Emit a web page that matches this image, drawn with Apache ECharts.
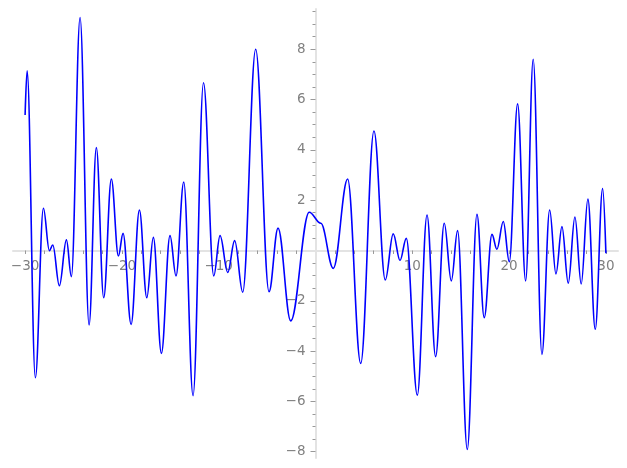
<!DOCTYPE html>
<html>
<head>
<meta charset="utf-8">
<script src="https://cdn.jsdelivr.net/npm/echarts@6/dist/echarts.min.js"></script>
<style>html,body{margin:0;padding:0;background:#fff}#c{width:627px;height:468px}</style>
</head>
<body>
<div id="c"></div>
<script>
// Curve samples (turning points of the curve)
const xValues = [-30, -29.79, -28.94, -28.11, -27.49, -27.14, -26.46, -25.73, -25.22, -24.32,
  -23.39, -22.64, -21.88, -21.09, -20.36, -19.88, -19.05, -18.19, -17.43, -16.75,
  -15.92, -15.03, -14.41, -13.61, -12.65, -11.57, -10.51, -9.86, -9.07, -8.35,
  -7.52, -6.18, -4.80, -3.87, -2.56, -0.65, 0.55, 1.84, 3.32, 4.67,
  6.04, 7.21, 8.03, 8.73, 9.38, 10.52, 11.52, 12.41, 13.30, 14.03,
  14.68, 15.68, 16.68, 17.43, 18.23, 18.74, 19.40, 20.02, 20.88, 21.71,
  22.49, 23.39, 24.19, 24.84, 25.46, 26.11, 26.80, 27.45, 28.14, 28.90,
  29.66, 30];
const yValues = [5.39, 7.14, -5.06, 1.68, -0.01, 0.22, -1.40, 0.42, -1.04, 9.26,
  -2.96, 4.09, -1.88, 2.84, -0.22, 0.68, -2.94, 1.61, -1.88, 0.52,
  -4.09, 0.59, -1.01, 2.72, -5.77, 6.67, -1.01, 0.59, -0.87, 0.39,
  -1.66, 8.00, -1.64, 0.89, -2.80, 1.52, 1.08, -0.71, 2.84, -4.49,
  4.75, -1.17, 0.66, -0.40, 0.48, -5.75, 1.41, -4.22, 1.08, -1.21,
  0.79, -7.91, 1.44, -2.67, 0.64, 0.05, 1.15, -0.45, 5.83, -1.21,
  7.60, -4.13, 1.61, -0.93, 0.95, -1.30, 1.33, -1.33, 2.04, -3.13,
  2.46, -0.11];

// Tick labels and tick marks
const xTickLabels = [-30, -20, -10, 10, 20, 30];
const xTickMarks = [-30, -28, -26, -24, -22, -20, -18, -16, -14, -12, -10, -8, -6, -4, -2,
  2, 4, 6, 8, 10, 12, 14, 16, 18, 20, 22, 24, 26, 28, 30];
const yTickLabels = [-8, -6, -4, -2, 2, 4, 6, 8];
const yMinorTicks = [-7.5, -7, -6.5, -5.5, -5, -4.5, -3.5, -3, -2.5, -1.5, -1, -0.5,
  0.5, 1, 1.5, 2.5, 3, 3.5, 4.5, 5, 5.5, 6.5, 7, 7.5, 8.5, 9, 9.5];

const fmt = v => (v < 0 ? '\u2212' + Math.abs(v) : String(v));
const labelColor = '#808080';
const axisColor = '#e3e3e3';
const tickColor = '#999999';
const font = 'DejaVu Sans';

const W = 627, H = 468;
const G = {left: 13, right: 9, top: 9, bottom: 10};
const X_MIN = -31.25, X_MAX = 31.25, Y_MIN = -8.25, Y_MAX = 9.6;
const gw = W - G.left - G.right, gh = H - G.top - G.bottom;
// offsets that move the axes from the grid edges onto the zero lines
const xOff = -(gh * (0 - Y_MIN) / (Y_MAX - Y_MIN));
const yOff = -(gw * (0 - X_MIN) / (X_MAX - X_MIN));

const data = xValues.map((x, i) => [x, yValues[i]]);

const chart = echarts.init(document.getElementById('c'), null, {renderer: 'canvas'});
chart.setOption({
  animation: false,
  backgroundColor: '#ffffff',
  grid: {left: G.left, right: G.right, top: G.top, bottom: G.bottom, outerBoundsMode: 'none'},
  xAxis: {
    type: 'value', min: X_MIN, max: X_MAX, position: 'bottom', offset: xOff,
    axisLine: {show: true, onZero: false, lineStyle: {color: axisColor, width: 2}},
    axisTick: {show: true, customValues: xTickMarks, length: 3.5, lineStyle: {color: tickColor, width: 1}},
    axisLabel: {show: true, customValues: xTickLabels, formatter: fmt, color: labelColor,
      fontFamily: font, fontSize: 13.5, margin: 9},
    splitLine: {show: false}
  },
  yAxis: [{
    type: 'value', min: Y_MIN, max: Y_MAX, position: 'left', offset: yOff,
    axisLine: {show: true, onZero: false, lineStyle: {color: axisColor, width: 2}},
    axisTick: {show: true, customValues: yTickLabels, length: 5, lineStyle: {color: tickColor, width: 1}},
    axisLabel: {show: true, customValues: yTickLabels, formatter: fmt, color: labelColor,
      fontFamily: font, fontSize: 13.5, margin: 10},
    splitLine: {show: false}
  }, {
    type: 'value', min: Y_MIN, max: Y_MAX, position: 'left', offset: yOff,
    axisLine: {show: false, onZero: false},
    axisTick: {show: true, customValues: yMinorTicks, length: 3, lineStyle: {color: tickColor, width: 1}},
    axisLabel: {show: false},
    splitLine: {show: false}
  }],
  series: [{
    type: 'line',
    data: data,
    xAxisIndex: 0,
    yAxisIndex: 0,
    showSymbol: false,
    smooth: 0.37,
    smoothMonotone: 'x',
    lineStyle: {color: '#0000ff', width: 1.6},
    z: 5
  }]
});
</script>
</body>
</html>
